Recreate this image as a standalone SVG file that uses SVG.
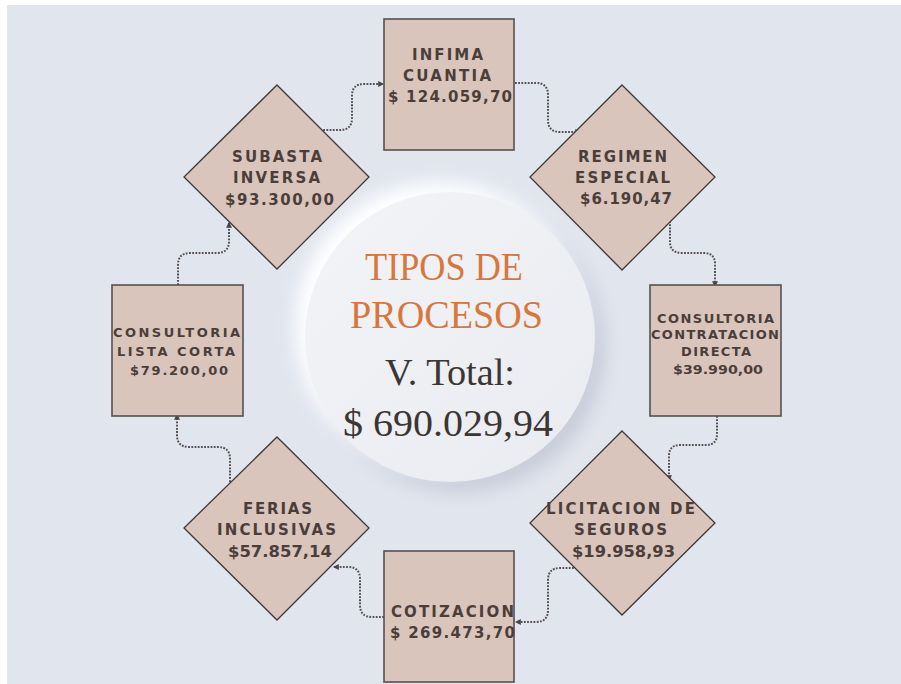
<svg xmlns="http://www.w3.org/2000/svg" width="901" height="684" viewBox="0 0 901 684">
<style>
.node{fill:#d9c5bc;stroke:#3f3838;stroke-width:1.3}
.sq{fill:#d9c5bc;stroke:#575151;stroke-width:1.6}
.lbl{font-family:"DejaVu Sans","Liberation Sans",sans-serif;font-weight:700;font-size:15px;fill:#4b3e3a}
.sm{font-size:13px}
.conn{fill:none;stroke:#55504f;stroke-width:2;stroke-dasharray:1.8 1.4}
.title{font-family:"Liberation Serif","Times New Roman",serif;font-size:39px;fill:#d8773c}
.total{font-family:"Liberation Serif","Times New Roman",serif;font-size:38px;fill:#3b3534}
</style>
<defs>
<marker id="arr" viewBox="0 0 10 10" refX="8" refY="5" markerWidth="6" markerHeight="6" orient="auto" markerUnits="userSpaceOnUse">
<path d="M0,0 L10,5 L0,10 z" fill="#4a4545"/>
</marker>
<filter id="blur" x="-30%" y="-30%" width="160%" height="160%"><feGaussianBlur stdDeviation="9"/></filter>
<linearGradient id="cg" x1="0" y1="0" x2="1" y2="1">
<stop offset="0" stop-color="#f3f4f7"/>
<stop offset="1" stop-color="#e9ebf0"/>
</linearGradient>
</defs>
<rect x="0" y="0" width="901" height="684" fill="#ffffff"/>
<rect x="7" y="5" width="894" height="679" fill="#e1e5ee"/>

<g id="center">
<circle cx="460" cy="347" r="145" fill="#c6ccd9" filter="url(#blur)"/>
<circle cx="440" cy="327" r="145" fill="#ffffff" filter="url(#blur)"/>
<circle cx="450" cy="337" r="145" fill="url(#cg)"/>
<text class="title" x="365" y="280" textLength="158" lengthAdjust="spacingAndGlyphs">TIPOS DE</text>
<text class="title" x="350" y="328" textLength="193" lengthAdjust="spacingAndGlyphs">PROCESOS</text>
<text class="total" x="385" y="385" textLength="130" lengthAdjust="spacingAndGlyphs">V. Total:</text>
<text class="total" x="343" y="436" textLength="210" lengthAdjust="spacingAndGlyphs">$ 690.029,94</text>
</g>

<g id="connectors">
<path class="conn" d="M320,130 L340,130 Q352,130 352,118 L352,96 Q352,84 364,84 L383,84" marker-end="url(#arr)"/>
<path class="conn" d="M515,83 L536,83 Q548,83 548,95 L548,120 Q548,132 560,132 L580,132" marker-end="url(#arr)"/>
<path class="conn" d="M670,221 L670,242 Q670,253 682,253 L704,253 Q715,253 715,264 L715,286" marker-end="url(#arr)"/>
<path class="conn" d="M717,416 L717,434 Q717,445 706,445 L680,445 Q669,445 669,456 L669,480" marker-end="url(#arr)"/>
<path class="conn" d="M577,568 L560,568 Q548,568 548,580 L548,610 Q548,622 536,622 L516,622" marker-end="url(#arr)"/>
<path class="conn" d="M384,617 L372,617 Q360,617 360,605 L360,579 Q360,567 348,567 L334,567" marker-end="url(#arr)"/>
<path class="conn" d="M230,482 L230,459 Q230,447 218,447 L189,447 Q177,447 177,435 L177,415" marker-end="url(#arr)"/>
<path class="conn" d="M178,285 L178,265 Q178,253 190,253 L217,253 Q229,253 229,241 L229,223" marker-end="url(#arr)"/>
</g>

<g id="infima">
<rect class="sq" x="384" y="19" width="130" height="131"/>
<text class="lbl" x="412" y="60" textLength="71" lengthAdjust="spacing">INFIMA</text>
<text class="lbl" x="403" y="81" textLength="88" lengthAdjust="spacing">CUANTIA</text>
<text class="lbl" x="388" y="102" textLength="124" lengthAdjust="spacing">$ 124.059,70</text>
</g>

<g id="regimen">
<polygon class="node" points="622,85 715,177 622,270 530,177"/>
<text class="lbl" x="578" y="162" textLength="89" lengthAdjust="spacing">REGIMEN</text>
<text class="lbl" x="575" y="183" textLength="95" lengthAdjust="spacing">ESPECIAL</text>
<text class="lbl" x="580" y="204" textLength="92" lengthAdjust="spacing">$6.190,47</text>
</g>

<g id="contratacion">
<rect class="sq" x="650" y="285" width="131" height="131"/>
<text class="lbl sm" x="657" y="323" textLength="117" lengthAdjust="spacing">CONSULTORIA</text>
<text class="lbl sm" x="651" y="339" textLength="128" lengthAdjust="spacing">CONTRATACION</text>
<text class="lbl sm" x="681" y="356" textLength="70" lengthAdjust="spacing">DIRECTA</text>
<text class="lbl sm" x="673" y="374" textLength="90" lengthAdjust="spacingAndGlyphs">$39.990,00</text>
</g>

<g id="seguros">
<polygon class="node" points="622,431 715,523 622,615 530,523"/>
<text class="lbl" x="546" y="514" textLength="149" lengthAdjust="spacing">LICITACION DE</text>
<text class="lbl" x="574" y="535" textLength="93" lengthAdjust="spacing">SEGUROS</text>
<text class="lbl" x="572" y="557" textLength="103" lengthAdjust="spacingAndGlyphs">$19.958,93</text>
</g>

<g id="cotizacion">
<rect class="sq" x="384" y="551" width="130" height="131"/>
<text class="lbl" x="391" y="617" textLength="123" lengthAdjust="spacing">COTIZACION</text>
<text class="lbl" x="390" y="638" textLength="125" lengthAdjust="spacing">$ 269.473,70</text>
</g>

<g id="ferias">
<polygon class="node" points="277,437 369,528 277,620 184,528"/>
<text class="lbl" x="243" y="514" textLength="69" lengthAdjust="spacing">FERIAS</text>
<text class="lbl" x="217" y="535" textLength="119" lengthAdjust="spacing">INCLUSIVAS</text>
<text class="lbl" x="228" y="557" textLength="104" lengthAdjust="spacingAndGlyphs">$57.857,14</text>
</g>

<g id="listacorta">
<rect class="sq" x="112" y="285" width="131" height="131"/>
<text class="lbl sm" x="113" y="337" textLength="127" lengthAdjust="spacing">CONSULTORIA</text>
<text class="lbl sm" x="117" y="356" textLength="118" lengthAdjust="spacing">LISTA CORTA</text>
<text class="lbl sm" x="130" y="375" textLength="98" lengthAdjust="spacing">$79.200,00</text>
</g>

<g id="subasta">
<polygon class="node" points="277,85 369,177 277,269 184,177"/>
<text class="lbl" x="232" y="162" textLength="90" lengthAdjust="spacing">SUBASTA</text>
<text class="lbl" x="233" y="183" textLength="87" lengthAdjust="spacing">INVERSA</text>
<text class="lbl" x="225" y="205" textLength="109" lengthAdjust="spacing">$93.300,00</text>
</g>
</svg>
